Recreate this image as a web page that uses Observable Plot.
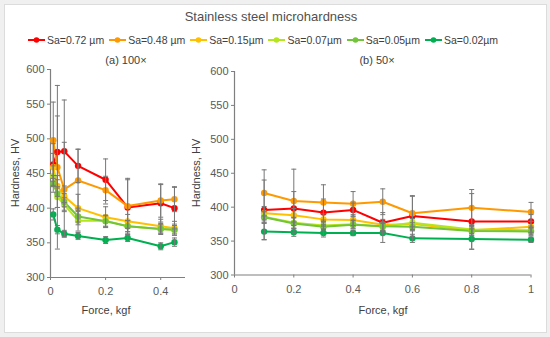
<!DOCTYPE html>
<html><head><meta charset="utf-8">
<script src="https://cdn.jsdelivr.net/npm/d3@7"></script>
<script src="https://cdn.jsdelivr.net/npm/@observablehq/plot@0.6"></script>
<style>
body{margin:0;background:#f0f0f0;}
#wrap{position:relative;width:550px;height:337px;overflow:hidden;font-family:"Liberation Sans",Arial,sans-serif;}
#card{position:absolute;left:4px;top:4px;width:543px;height:329px;background:#fff;border:1px solid #dcdcdc;box-sizing:border-box}
.abs{position:absolute;color:#404040;white-space:nowrap;font-size:11px;line-height:14px}
#title{left:0;width:542px;top:9px;text-align:center;font-size:13px;line-height:16px;color:#505050}
#legend{left:28px;top:33px;display:flex;align-items:center;font-size:10.5px}
.item{display:flex;align-items:center;margin-right:5px}
.item svg{margin-right:2px}
.rot{transform:translate(-50%,-50%) rotate(-90deg)}
.plot{position:absolute;top:50px}
</style></head>
<body>
<div id="wrap">
<div id="card"></div>
<div class="abs" id="title">Stainless steel microhardness</div>
<div class="abs" id="legend"></div>
<div class="abs" style="left:76px;width:100px;top:53px;text-align:center">(a) 100×</div>
<div class="abs" style="left:327px;width:100px;top:53px;text-align:center">(b) 50×</div>
<div class="abs" style="left:56px;width:100px;top:303px;text-align:center">Force, kgf</div>
<div class="abs" style="left:333px;width:100px;top:303px;text-align:center">Force, kgf</div>
<div class="abs rot" style="left:15px;top:173px">Hardness, HV</div>
<div class="abs rot" style="left:196px;top:173px">Hardness, HV</div>
<div class="plot" id="pa" style="left:0px"></div>
<div class="plot" id="pb" style="left:180px"></div>
</div>
<script>
const seriesLabels = ["Sa=0.72 µm", "Sa=0.48 µm", "Sa=0.15µm", "Sa=0.07µm", "Sa=0.05µm", "Sa=0.02µm"];
const seriesColors = ["#ff0000", "#ff9900", "#ffc000", "#b5e51d", "#72c43a", "#00b050"];

// (a) 100×
const forceA = [0.01, 0.025, 0.05, 0.1, 0.2, 0.28, 0.4, 0.45];
const hvA_072 = [463, 481, 482, 461, 441, 401, 407, 400];
const hvA_048 = [498, 459, 427, 440, 426, 403, 411, 413];
const hvA_015 = [459, 432, 417, 400, 387, 381, 374, 371];
const hvA_007 = [446, 416, 405, 382, 382, 374, 370, 369];
const hvA_005 = [435, 421, 409, 388, 381, 374, 370, 369];
const hvA_002 = [391, 369, 363, 360, 354, 357, 345, 351];
const errA_072 = [30, 52, 74, 24, 30, 40, 27, 30];
const errA_048 = [55, 118, 68, 45, 20, 40, 24, 18];
const errA_015 = [20, 15, 15, 20, 15, 10, 10, 10];
const errA_007 = [15, 15, 10, 15, 8, 8, 8, 8];
const errA_005 = [12, 20, 12, 12, 8, 8, 6, 6];
const errA_002 = [8, 6, 5, 5, 5, 5, 5, 6];

// (b) 50×
const forceB = [0.1, 0.2, 0.3, 0.4, 0.5, 0.6, 0.8, 1.0];
const hvB_072 = [396, 398, 392, 396, 377, 387, 379, 379];
const hvB_048 = [421, 409, 407, 405, 408, 391, 399, 393];
const hvB_015 = [391, 388, 382, 381, 374, 375, 366, 371];
const hvB_007 = [386, 377, 373, 375, 371, 377, 367, 366];
const hvB_005 = [385, 376, 371, 374, 372, 371, 365, 364];
const hvB_002 = [364, 363, 362, 362, 362, 354, 353, 352];
const errB_072 = [44, 25, 20, 10, 15, 30, 41, 10];
const errB_048 = [34, 47, 26, 18, 19, 25, 27, 14];
const errB_015 = [10, 10, 8, 8, 8, 8, 8, 8];
const errB_007 = [8, 8, 6, 6, 6, 6, 6, 6];
const errB_005 = [8, 8, 6, 6, 6, 6, 6, 6];
const errB_002 = [12, 6, 6, 4, 14, 6, 15, 4];

const ticksA = [0, 0.2, 0.4];
const ticksB = [0, 0.2, 0.4, 0.6, 0.8, 1];
const ticksY = [300, 350, 400, 450, 500, 550, 600];

function rows(xs, ys, es) {
  const out = [];
  ys.forEach((vals, s) => vals.forEach((v, i) => out.push({series: seriesLabels[s], x: xs[i], y: v, lo: v - es[s][i], hi: v + es[s][i]})));
  return out;
}
const dataA = rows(forceA, [hvA_072, hvA_048, hvA_015, hvA_007, hvA_005, hvA_002], [errA_072, errA_048, errA_015, errA_007, errA_005, errA_002]);
const dataB = rows(forceB, [hvB_072, hvB_048, hvB_015, hvB_007, hvB_005, hvB_002], [errB_072, errB_048, errB_015, errB_007, errB_005, errB_002]);

const cap = {draw(ctx, size) { const w = Math.sqrt(size / Math.PI); ctx.moveTo(-w, 0); ctx.lineTo(w, 0); }};
const axisCol = "#7f7f7f";
const fmt = d => d === 0 ? "0" : d === 1 ? "1" : String(d);

function makePlot(data, opts) {
  return Plot.plot({
    width: opts.width, height: 272,
    marginLeft: opts.ml, marginRight: opts.mr, marginTop: opts.mt, marginBottom: opts.mb,
    style: {background: "transparent", fontSize: "11px", fontFamily: '"Liberation Sans",Arial,sans-serif', color: "#595959"},
    x: {domain: opts.xdomain},
    y: {domain: [300, 600]},
    color: {domain: seriesLabels, range: seriesColors},
    marks: [
      Plot.axisY({ticks: ticksY, tickSize: 3, tickPadding: 3, label: null, stroke: axisCol}),
      Plot.axisX({ticks: opts.xticks, tickSize: 3, tickPadding: 7, tickFormat: fmt, label: null, stroke: axisCol}),
      Plot.ruleX([opts.xdomain[0]], {stroke: axisCol, strokeWidth: 1.2}),
      Plot.ruleY([300], {stroke: axisCol, strokeWidth: 1.2}),
      Plot.line(data, {x: "x", y: "y", z: "series", stroke: "series", strokeWidth: 2}),
      Plot.dot(data, {x: "x", y: "y", fill: "series", r: 3.2}),
      Plot.ruleX(data, {x: "x", y1: "lo", y2: "hi", stroke: "#777777", strokeWidth: 1}),
      Plot.dot(data, {x: "x", y: "lo", symbol: cap, r: 2.5, stroke: "#777777", strokeWidth: 1, fill: "none"}),
      Plot.dot(data, {x: "x", y: "hi", symbol: cap, r: 2.5, stroke: "#777777", strokeWidth: 1, fill: "none"})
    ]
  });
}

document.getElementById("pa").append(makePlot(dataA, {width: 195, ml: 50, mr: 10, mt: 19, mb: 45, xdomain: [0, 0.49], xticks: ticksA}));
document.getElementById("pb").append(makePlot(dataB, {width: 360, ml: 54, mr: 9.5, mt: 21, mb: 47.5, xdomain: [0, 1], xticks: ticksB}));

const legend = document.getElementById("legend");
seriesLabels.forEach((lab, i) => {
  const it = document.createElement("div");
  it.className = "item";
  it.innerHTML = `<svg width="17" height="10"><line x1="0" y1="5" x2="17" y2="5" stroke="${seriesColors[i]}" stroke-width="2"/><circle cx="8.5" cy="5" r="2.8" fill="${seriesColors[i]}"/></svg><span>${lab}</span>`;
  legend.append(it);
});
</script>
</body></html>
